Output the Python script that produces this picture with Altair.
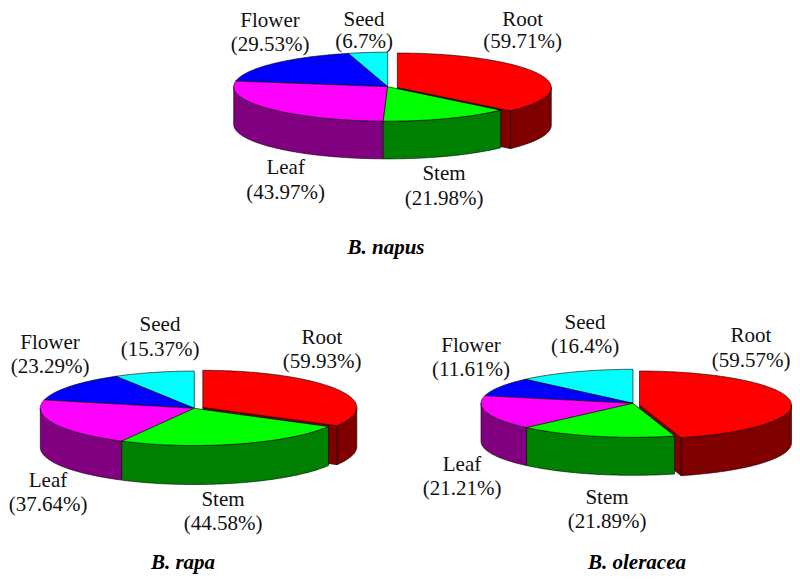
import numpy as np
import pandas as pd
import altair as alt

# ---- values ----
parts = ["Root", "Stem", "Leaf", "Flower", "Seed"]
napus = [59.71, 21.98, 43.97, 29.53, 6.7]
rapa = [59.93, 44.58, 37.64, 23.29, 15.37]
oleracea = [59.57, 21.89, 21.21, 11.61, 16.4]
titles = ["B. napus", "B. rapa", "B. oleracea"]

# ---- styling ----
top_colors = ["#ff0000", "#00ff00", "#ff00ff", "#0000ff", "#00ffff"]
wall_colors = ["#800000", "#008000", "#800080", "#000080", "#008080"]
FONT = "Liberation Serif"

# ---- layout of each pie (page pixels): centre, radii, wall height, root apex ----
layout = [
    dict(cx=387.7, cy=86.7, rx=154, ry=34.5, h=37.7, ax=397.3, ay=87.5),
    dict(cx=194.3, cy=408.3, rx=154, ry=37.2, h=39, ax=202.8, ay=407.5),
    dict(cx=633.0, cy=403.3, rx=152, ry=34, h=38, ax=639.5, ay=405),
]
# label anchors: part -> (x, name y, percentage y)
label_pos = [
    [(522.7, 20, 42), (444, 174, 199), (285.7, 168, 193), (270, 21, 45), (364, 20, 42)],
    [(322, 338, 362), (223, 500, 524), (48, 481, 505), (50, 343, 367), (160, 325, 350)],
    [(751, 336, 361), (607, 498, 522), (462, 465, 489), (471, 346, 370), (585, 323, 347)],
]
title_pos = [(386, 248), (183, 563), (637, 563)]

X = alt.Scale(domain=[8, 792], nice=False, zero=False)
Y = alt.Scale(domain=[574, 8], nice=False, zero=False)


def arc(cx, cy, rx, ry, a, b):
    t = np.radians(np.linspace(a, b, max(int(abs(b - a)), 2) + 1))
    return list(zip(cx + rx * np.sin(t), cy - ry * np.cos(t)))


def poly(points, fill):
    df = pd.DataFrame(points + points[:1], columns=["x", "y"])
    df["i"] = range(len(df))
    return alt.Chart(df).mark_line(
        fill=fill, stroke="#000000", strokeWidth=0.6, strokeJoin="round", interpolate="linear"
    ).encode(
        x=alt.X("x:Q", scale=X, axis=None),
        y=alt.Y("y:Q", scale=Y, axis=None),
        order="i:Q",
    )


def pie(values, g):
    vals = np.array(values, dtype=float)
    edges = np.concatenate([[0], np.cumsum(vals) / vals.sum() * 360])
    out = []

    def slab(k):
        a, b = edges[k], edges[k + 1]
        cx, cy = (g["ax"], g["ay"]) if k == 0 else (g["cx"], g["cy"])
        rx, ry, h = g["rx"], g["ry"], g["h"]
        lo, hi = max(a, 90), min(b, 270)
        if lo < hi:
            rim = arc(cx, cy, rx, ry, lo, hi)
            base = [(x, y + h) for x, y in rim[::-1]]
            out.append(poly(rim + base, wall_colors[k]))
        if k == 0:  # the cut face of the pulled-out slice
            ex, ey = arc(cx, cy, rx, ry, b, b + 1)[0]
            out.append(poly([(cx, cy), (ex, ey), (ex, ey + h), (cx, cy + h)], wall_colors[k]))
        out.append(poly([(cx, cy)] + arc(cx, cy, rx, ry, a, b), top_colors[k]))

    for k in [0, 4, 3, 2, 1]:
        slab(k)
    return out


layers = []
rows = []
head = []
for values, g, pos, title, tp in zip([napus, rapa, oleracea], layout, label_pos, titles, title_pos):
    layers += pie(values, g)
    for name, v, (x, y1, y2) in zip(parts, values, pos):
        rows.append(dict(x=x, y=y1, t=name))
        rows.append(dict(x=x, y=y2, t=f"({v}%)"))
    head.append(dict(x=tp[0], y=tp[1], t=title))

labels = alt.Chart(pd.DataFrame(rows)).mark_text(
    font=FONT, fontSize=21, color="#111111", align="center", baseline="middle"
).encode(x=alt.X("x:Q", scale=X, axis=None), y=alt.Y("y:Q", scale=Y, axis=None), text="t:N")

heads = alt.Chart(pd.DataFrame(head)).mark_text(
    font=FONT, fontSize=21, fontWeight="bold", fontStyle="italic", color="#000000",
    align="center", baseline="middle"
).encode(x=alt.X("x:Q", scale=X, axis=None), y=alt.Y("y:Q", scale=Y, axis=None), text="t:N")

chart = alt.layer(*layers, labels, heads).properties(
    width=784, height=566, padding=0, autosize=alt.AutoSizeParams(type="none"),
    background="#ffffff"
).configure_view(stroke=None)

chart.save("out.html", embed_options={"renderer": "svg", "actions": False})
